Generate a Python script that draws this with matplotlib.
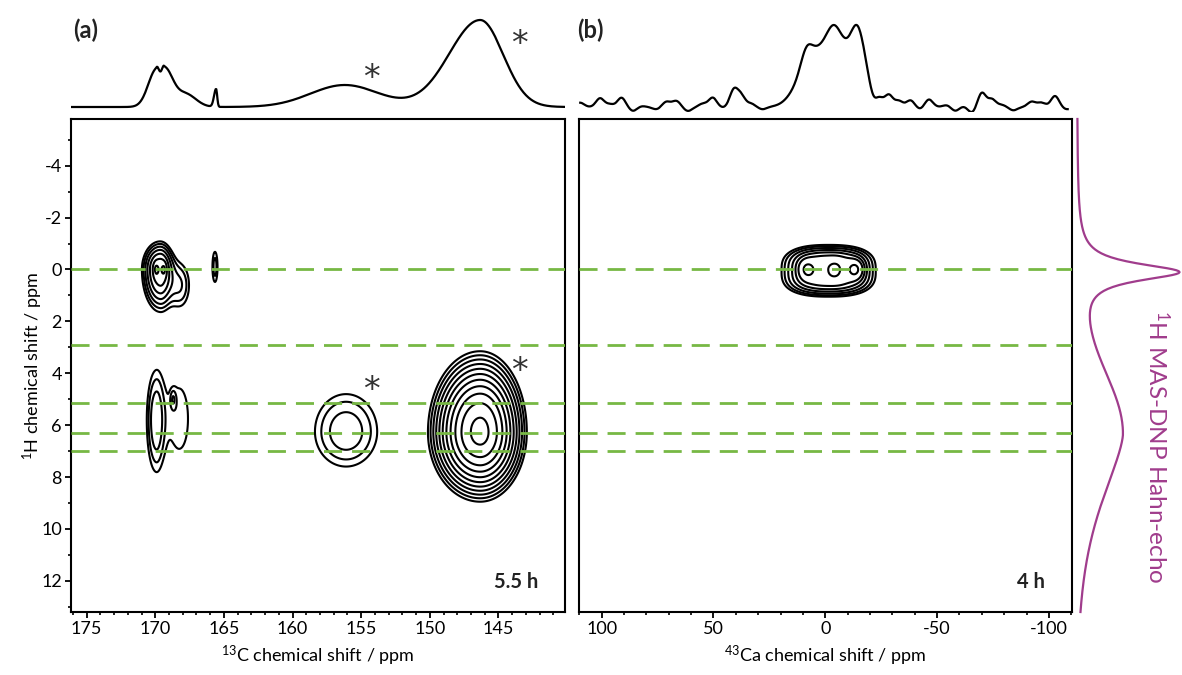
import numpy as np
import matplotlib as mpl
mpl.use('Agg')
import matplotlib.pyplot as plt

plt.rcParams.update({
    'font.family': ['Lato', 'DejaVu Sans'],
    'mathtext.fontset': 'custom',
    'mathtext.rm': 'Lato',
    'mathtext.default': 'regular',
    'axes.unicode_minus': False,
})

# axis ranges (ppm)
c13_lim = (176.14, 140.15)
ca_lim = (110.1, -110.3)
h1_lim = (13.2, -5.8)

# 1H positions of the green guide lines
h1_guides = [0.0, 2.9, 5.15, 6.3, 7.0]

# 2D peaks: x0, y0, sx below, sx above, sy below, sy above, amplitude
c13_peaks = [
    (169.65, 0.0, 0.55, 0.71, 0.58, 0.86, 5.7),
    (169.95, 0.0, 0.12, 0.12, 0.18, 0.18, 1.3),
    (169.35, 0.0, 0.12, 0.12, 0.18, 0.18, 1.3),
    (168.2, 0.6, 0.6, 0.6, 0.7, 0.7, 1.8),
    (165.65, -0.1, 0.19, 0.19, 0.6, 0.6, 1.6),
    (169.95, 5.8, 0.45, 0.52, 1.43, 1.5, 2.2),
    (168.7, 5.0, 0.15, 0.15, 0.25, 0.25, 0.9),
    (168.25, 5.75, 0.9, 0.9, 1.65, 1.65, 1.28),
    (156.1, 6.25, 1.77, 1.77, 1.13, 1.05, 2.27),
    (146.33, 6.27, 1.365, 1.526, 1.253, 1.076, 22.2),
]
c13_levels = [1.0, 1.35, 1.82, 2.46, 3.32, 4.48, 6.05, 8.17, 11.0, 14.9, 20.1]

# panel (b): flat base (x0, y0, sx, sy, power x, power y, amp) + three maxima
ca_base = (-1.5, 0.05, 14.0, 0.71, 2.5, 3, 1.0)
ca_peaks = [
    (8.5, 0.0, 2.4, 2.4, 0.25, 0.25, 0.36),
    (-4.4, 0.0, 2.4, 2.4, 0.25, 0.25, 0.16),
    (-13.7, 0.0, 2.4, 2.4, 0.25, 0.25, 0.46),
]
ca_levels = [0.25, 0.31, 0.39, 0.49, 0.61, 0.76, 1.07]

# 1D projections: centre, height, width below, power below, width above, power above
c13_proj = [
    (169.9, 38, 0.22, 2, 0.6, 2),
    (169.35, 38, 0.6, 2, 0.22, 2),
    (167.8, 13, 0.75, 2, 0.75, 2),
    (165.57, 18, 0.08, 2, 0.15, 2),
    (156.2, 22, 2.5, 2, 2.5, 2),
    (146.33, 87, 1.67, 2, 2.27, 2),
]
ca_proj = [
    (-3.0, 62, 15.5, 8, 13.0, 3),
    (8.5, 16, 2.5, 2, 2.5, 2),
    (-3.8, 20, 3.0, 2, 3.0, 2),
    (-14.2, 22, 2.5, 2, 2.5, 2),
]
# baseline wiggles of the 43Ca projection: centre, height
ca_noise = [
    (109.6, 4.3), (100.7, 8.7), (96.3, 2.7), (91.1, 9.3), (85.9, -4), (82.2, 1),
    (75.5, -2.3), (71.0, 5.3), (66.6, 6), (61.4, -4), (54.7, 3.3), (50.3, 9.3),
    (45.8, -0.7), (40.9, 16.7), (37.6, 11), (33.2, 3.3), (28.0, -2.3),
    (-24.0, 9.3), (-28.4, 12), (-32.9, 6), (-38.1, 6.7), (-42.5, -2.3),
    (-46.3, 7.7), (-50.7, 0), (-54.4, 2), (-58.1, -4), (-61.8, 1), (-65.6, -5.7),
    (-70.0, 14.3), (-74.5, 7.7), (-78.9, 2), (-84.1, -3.3), (-92.3, 5.3),
    (-96.7, 4.3), (-102.7, 11), (-107.9, -2.3),
]
h1_lorentz = [(0.1, 0.4, 102)]
h1_gauss = [(6.35, 46, 2.4, 2, 2.29, 1.5)]

green = '#77b844'
purple = '#a03c8c'


def peak2d(X, Y, p):
    x0, y0, sxn, sxp, syn, syp, amp = p
    dx, dy = X - x0, Y - y0
    sx = np.where(dx < 0, sxn, sxp)
    sy = np.where(dy < 0, syn, syp)
    return amp * np.exp(-0.5 * ((dx / sx)**2 + (dy / sy)**2))


def spec1d(x, comps):
    out = np.zeros_like(x)
    for c, h, wn, pn, wp, pp in comps:
        d = x - c
        w = np.where(d < 0, wn, wp)
        p = np.where(d < 0, pn, pp)
        out += h * np.exp(-0.5 * np.abs(d / w)**p)
    return out


W, H = 1182, 675
fig = plt.figure(figsize=(W / 100, H / 100), dpi=100)


def px_axes(x0, y0, x1, y1):
    return fig.add_axes([x0 / W, 1 - y1 / H, (x1 - x0) / W, (y1 - y0) / H])


ax_a = px_axes(71, 119, 565, 612)
ax_b = px_axes(579, 119, 1072, 612)
top_a = px_axes(71, 10, 565, 112)
top_b = px_axes(579, 10, 1072, 112)
side = px_axes(1073, 119, 1182, 612)

# panel (a) contours
xc = np.linspace(c13_lim[1], c13_lim[0], 800)
yh = np.linspace(h1_lim[1], h1_lim[0], 500)
X, Y = np.meshgrid(xc, yh)
Z = sum(peak2d(X, Y, p) for p in c13_peaks)
ax_a.contour(X, Y, Z, levels=c13_levels, colors='k', linewidths=1.5)

# panel (b) contours
xca = np.linspace(ca_lim[1], ca_lim[0], 800)
X2, Y2 = np.meshgrid(xca, yh)
bx0, by0, bsx, bsy, bpx, bpy, bamp = ca_base
Z2 = bamp * np.exp(-0.5 * (np.abs((X2 - bx0) / bsx)**bpx + np.abs((Y2 - by0) / bsy)**bpy))
Z2 = Z2 + sum(peak2d(X2, Y2, p) for p in ca_peaks)
ax_b.contour(X2, Y2, Z2, levels=ca_levels, colors='k', linewidths=1.5)

for ax in (ax_a, ax_b):
    for y in h1_guides:
        ax.axhline(y, color=green, lw=2, dashes=(6.5, 3.6), zorder=3)
    ax.set_ylim(*h1_lim)
    for s in ax.spines.values():
        s.set_linewidth(1.5)
    ax.tick_params(which='major', direction='out', length=4.5, width=1.3,
                   labelsize=13, pad=2)
    ax.tick_params(which='minor', direction='out', length=2.5, width=1.2)

ax_a.set_xlim(*c13_lim)
ax_a.set_xticks([175, 170, 165, 160, 155, 150, 145])
ax_a.set_xticks(np.arange(141, 177, 1), minor=True)
ax_a.set_yticks([-4, -2, 0, 2, 4, 6, 8, 10, 12])
ax_a.set_yticks(np.arange(-5, 14, 1), minor=True)
ax_a.set_xlabel('$^{13}$C chemical shift / ppm', fontsize=13, labelpad=5)
ax_a.set_ylabel('$^{1}$H chemical shift / ppm', fontsize=13)
ax_a.yaxis.set_label_coords(-0.052, 0.5)

ax_b.set_xlim(*ca_lim)
ax_b.set_xticks([100, 50, 0, -50, -100])
ax_b.set_xticks(np.arange(-110, 111, 10), minor=True)
ax_b.set_yticks([])
ax_b.set_yticks([], minor=True)
ax_b.set_xlabel('$^{43}$Ca chemical shift / ppm', fontsize=13, labelpad=5)

# projections
top_a.plot(xc, spec1d(xc, c13_proj), color='k', lw=1.6)
top_a.set_xlim(*c13_lim)
top_a.set_ylim(-5, 97)
top_a.axis('off')

ca_all = spec1d(xca, ca_proj)
for c, h in ca_noise:
    ca_all += h * np.exp(-0.5 * ((xca - c) / 1.8)**2)
keep = (xca > -108.5) & (xca < 109.8)
top_b.plot(xca[keep], ca_all[keep], color='k', lw=1.6)
top_b.set_xlim(*ca_lim)
top_b.set_ylim(-5, 97)
top_b.axis('off')

h1_proj = spec1d(yh, h1_gauss)
for c, g, h in h1_lorentz:
    h1_proj += h / (1 + ((yh - c) / g)**2)
side.plot(h1_proj, yh, color=purple, lw=1.6, clip_on=False)
side.set_ylim(*h1_lim)
side.set_xlim(-4, 106)
side.axis('off')
fig.text(1157 / W, 1 - 447 / H, '$^{1}$H MAS-DNP Hahn-echo', color=purple,
         fontsize=17.5, rotation=-90, ha='center', va='center')

# asterisks
star = dict(fontsize=24, color='#333333', ha='center', va='center',
            family='DejaVu Sans')
top_a.text(154.27, 37 - 8, '*', **star)
top_a.text(143.49, 70 - 8, '*', **star)
ax_a.text(154.27, 4.35 + 0.3, '*', **star)
ax_a.text(143.49, 3.65 + 0.3, '*', **star)

# labels
fig.text(86 / W, 1 - 30 / H, '(a)', fontsize=17, fontweight='bold',
         ha='center', va='center', color='#222222')
fig.text(590 / W, 1 - 30 / H, '(b)', fontsize=17, fontweight='bold',
         ha='center', va='center', color='#222222')
fig.text(516 / W, 1 - 582 / H, '5.5 h', fontsize=14.5, fontweight='bold',
         ha='center', va='center', color='#222222')
fig.text(1031 / W, 1 - 582 / H, '4 h', fontsize=14.5, fontweight='bold',
         ha='center', va='center', color='#222222')

fig.savefig('out.png', dpi=100)
